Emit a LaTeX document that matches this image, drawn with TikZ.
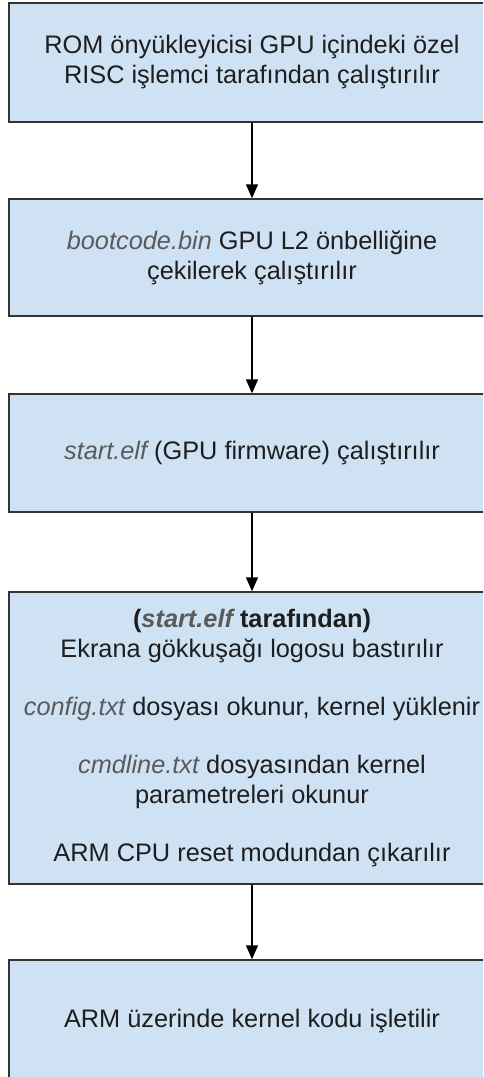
\documentclass[tikz,border=0pt]{standalone}
\usepackage{fontspec}
\setmainfont{Liberation Sans}
\usetikzlibrary{arrows.meta}
\definecolor{boxfill}{HTML}{CFE2F3}
\definecolor{boxline}{HTML}{333333}
\definecolor{bodytext}{HTML}{1E1E1E}
\definecolor{filename}{HTML}{5A5A5A}
\newcommand{\fname}[1]{\textcolor{filename}{\itshape #1}}
\begin{document}
\begin{tikzpicture}[x=0.75pt, y=-0.75pt,
  stepbox/.style={draw=boxline, line width=1.1pt, fill=boxfill, rectangle,
    minimum width=364.5pt, align=center, inner sep=0pt, text=bodytext,
    font=\fontsize{19}{22.5}\selectfont},
  flow/.style={draw=black, line width=1.1pt, -{Triangle[width=9pt,length=10.5pt]}}]
  \useasboundingbox (0,0) rectangle (483,1077);
  \clip (0,0) rectangle (483,1077);
  \fill[white] (0,0) rectangle (483,1077);

  \node[stepbox, minimum height=89.25pt] (rom) at (252,62.5)
    {ROM önyükleyicisi GPU içindeki özel\\RISC işlemci tarafından çalıştırılır};
  \node[stepbox, minimum height=87.75pt] (boot) at (252,257.5)
    {\fname{bootcode.bin} GPU L2 önbelliğine\\çekilerek çalıştırılır};
  \node[stepbox, minimum height=88.5pt] (start) at (252,453)
    {\fname{start.elf} (GPU firmware) çalıştırılır};
  \node[stepbox, minimum height=219pt] (fw) at (252,738)
    {\textbf{(\fname{start.elf} tarafından)}\\
     Ekrana gökkuşağı logosu bastırılır\\[21pt]
     \fname{config.txt} dosyası okunur, kernel yüklenir\\[21pt]
     \fname{cmdline.txt} dosyasından kernel\\
     parametreleri okunur\\[21pt]
     ARM CPU reset modundan çıkarılır};
  \node[stepbox, minimum height=91.5pt] (kern) at (252,1021)
    {ARM üzerinde kernel kodu işletilir};

  \draw[flow] (rom) -- (boot);
  \draw[flow] (boot) -- (start);
  \draw[flow] (start) -- (fw);
  \draw[flow] (fw) -- (kern);
\end{tikzpicture}
\end{document}
